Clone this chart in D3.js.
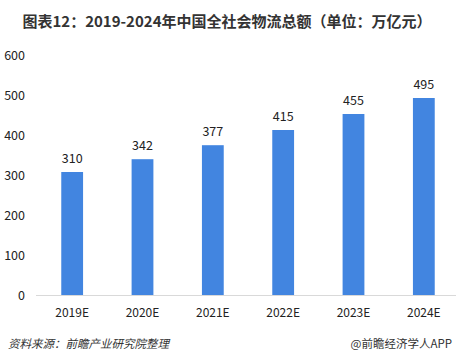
<!DOCTYPE html>
<meta charset="utf-8">
<script src="https://d3js.org/d3.v7.min.js"></script>
<style>
  body { margin: 0; background: #fff; }
  text { font-family: "Noto Sans CJK SC", "Noto Sans", sans-serif; }
</style>
<svg id="chart" width="461" height="362"></svg>
<script>
// data
const years = ["2019E", "2020E", "2021E", "2022E", "2023E", "2024E"];
const values = [310, 342, 377, 415, 455, 495];
const yTicks = [0, 100, 200, 300, 400, 500, 600];

const svg = d3.select("#chart");

const x = d3.scaleBand().domain(years).range([37, 459])
  .paddingInner(0.69).paddingOuter(0.345);
const y = d3.scaleLinear().domain([0, 600]).range([296, 56]);

// title
svg.append("text")
  .attr("x", 227).attr("y", 27)
  .attr("text-anchor", "middle")
  .attr("font-size", 15).attr("font-weight", "bold")
  .attr("fill", "#333")
  .text("图表12：2019-2024年中国全社会物流总额（单位：万亿元）");

// y tick labels (no axis line)
svg.selectAll(".ytick").data(yTicks).join("text")
  .attr("class", "ytick")
  .attr("x", 25).attr("y", d => y(d))
  .attr("dy", "0.35em")
  .attr("text-anchor", "end")
  .attr("font-size", 12.5).attr("fill", "#222")
  .text(d => d);

// baseline
svg.append("line")
  .attr("x1", 36).attr("x2", 456)
  .attr("y1", y(0) - 0.5).attr("y2", y(0) - 0.5)
  .attr("stroke", "#d9d9d9");

// bars
svg.selectAll(".bar").data(values).join("rect")
  .attr("class", "bar")
  .attr("x", (d, i) => x(years[i]))
  .attr("width", x.bandwidth())
  .attr("y", d => y(d))
  .attr("height", d => y(0) - 1 - y(d))
  .attr("fill", "#4285e0");

// value labels
svg.selectAll(".val").data(values).join("text")
  .attr("class", "val")
  .attr("x", (d, i) => x(years[i]) + x.bandwidth() / 2)
  .attr("y", d => y(d) - 9)
  .attr("text-anchor", "middle")
  .attr("font-size", 12.5).attr("fill", "#222")
  .text(d => d);

// x labels
svg.selectAll(".xlab").data(years).join("text")
  .attr("class", "xlab")
  .attr("x", d => x(d) + x.bandwidth() / 2)
  .attr("y", 317)
  .attr("text-anchor", "middle")
  .attr("font-size", 12).attr("fill", "#222")
  .text(d => d);

// footer
svg.append("text")
  .attr("x", 8).attr("y", 348)
  .attr("font-size", 11.5).attr("font-style", "italic")
  .attr("fill", "#333")
  .text("资料来源：前瞻产业研究院整理");

svg.append("text")
  .attr("x", 452).attr("y", 348)
  .attr("text-anchor", "end")
  .attr("font-size", 11.5).attr("fill", "#333")
  .text("@前瞻经济学人APP");
</script>
